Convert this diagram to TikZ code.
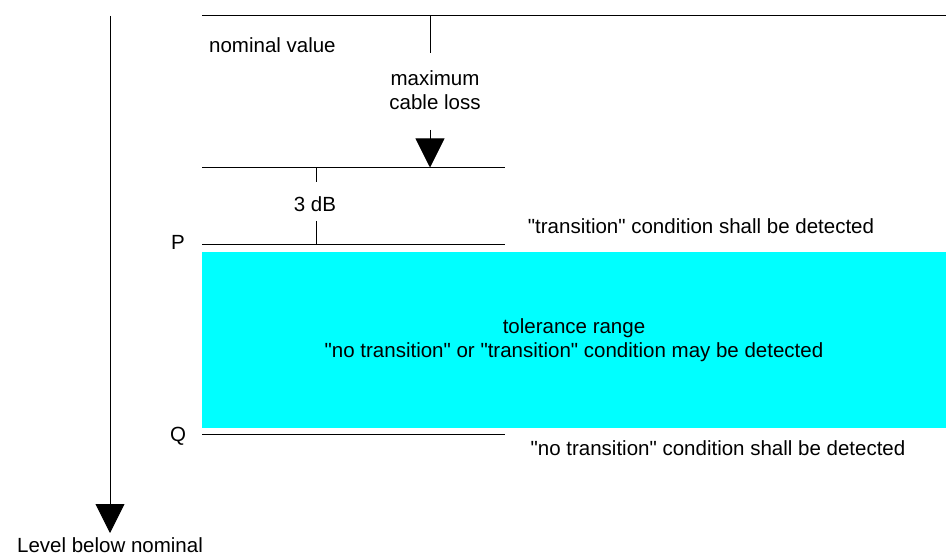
\documentclass[tikz,border=0pt]{standalone}
\usepackage{fontspec}
\setmainfont{Liberation Sans}[Ligatures=TeXOff]
\usetikzlibrary{arrows.meta}
\definecolor{tolcyan}{RGB}{0,255,255}
\tikzset{
  lbl/.style={inner sep=0pt, font=\fontsize{20.5}{24.5}\selectfont, align=center, text=black},
  rule/.style={draw=black, line width=0.9pt},
  bigarrow/.style={rule, -{Triangle[length=29pt,width=29pt]}},
}
\begin{document}
\begin{tikzpicture}[x=1pt,y=-1pt]
\useasboundingbox (0,0) rectangle (946,556);
% tolerance band
\fill[tolcyan] (202,252) rectangle (946,428);
% coordinates
\coordinate (axtop) at (110,16);
\coordinate (axend) at (110,533);
\coordinate (nomL) at (202,15.7);
\coordinate (nomR) at (946,15.7);
\coordinate (nomM) at (430,15.7);
\coordinate (cabTop) at (430,53);
\coordinate (cabStart) at (430,130);
\coordinate (cabM) at (430,167.5);
\coordinate (cabL) at (202,167.5);
\coordinate (cabR) at (505,167.5);
\coordinate (dA) at (316,167.5);
\coordinate (dB) at (316,182);
\coordinate (dC) at (316,221);
\coordinate (dD) at (316,244);
\coordinate (pL) at (202,244);
\coordinate (pR) at (505,244);
\coordinate (qL) at (202,434);
\coordinate (qR) at (505,434);
% lines
\draw[bigarrow] (axtop) -- (axend);
\draw[rule] (nomL) -- (nomR);
\draw[rule] (nomM) -- (cabTop);
\draw[bigarrow] (cabStart) -- (cabM);
\draw[rule] (cabL) -- (cabR);
\draw[rule] (dA) -- (dB);
\draw[rule] (dC) -- (dD);
\draw[rule] (pL) -- (pR);
\draw[rule] (qL) -- (qR);
% texts
\node[lbl, anchor=west] (nomval) at (209,45) {nominal value};
\node[lbl] (cabloss) at (435,90) {maximum\\cable loss};
\node[lbl] (db) at (315,204) {3 dB};
\node[lbl] (P) at (178,242) {P};
\node[lbl] (Q) at (178,436) {Q};
\node[lbl] (trans) at (701,226) {"transition" condition shall be detected};
\node[lbl] (tol) at (574,340) {tolerance range\\"no transition" or "transition" condition may be detected};
\node[lbl] (notrans) at (718,448) {"no transition" condition shall be detected};
\node[lbl, anchor=base] (level) at (110,552) {Level below nominal};
\end{tikzpicture}
\end{document}
